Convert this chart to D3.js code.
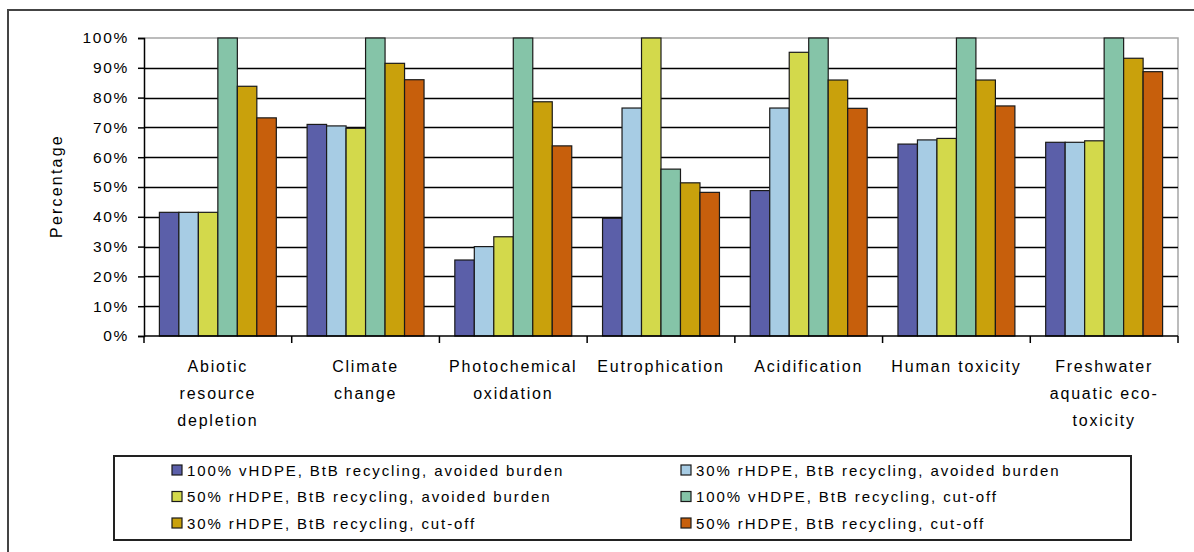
<!DOCTYPE html>
<html>
<head>
<meta charset="utf-8">
<script src="https://cdn.jsdelivr.net/npm/d3@7"></script>
<style>
  html, body { margin: 0; padding: 0; background: #fff; }
  svg { display: block; font-family: Arial, "Liberation Sans", sans-serif; }
</style>
</head>
<body>
<svg id="chart" width="1194" height="552"></svg>
<script>
// Impact categories (label lines)
const categories = [
  ["Abiotic", "resource", "depletion"],
  ["Climate", "change"],
  ["Photochemical", "oxidation"],
  ["Eutrophication"],
  ["Acidification"],
  ["Human toxicity"],
  ["Freshwater", "aquatic eco-", "toxicity"]
];

// Scenario names
const seriesNames = [
  "100% vHDPE, BtB recycling, avoided burden",
  "30% rHDPE, BtB recycling, avoided burden",
  "50% rHDPE, BtB recycling, avoided burden",
  "100% vHDPE, BtB recycling, cut-off",
  "30% rHDPE, BtB recycling, cut-off",
  "50% rHDPE, BtB recycling, cut-off"
];

// Relative impact (%) per scenario, one value per category
const vHDPE100Avoided = [41.5, 71.0, 25.5, 39.5, 48.8, 64.4, 65.0];
const rHDPE30Avoided  = [41.5, 70.5, 30.0, 76.5, 76.5, 65.8, 65.0];
const rHDPE50Avoided  = [41.5, 69.7, 33.3, 100, 95.2, 66.3, 65.5];
const vHDPE100Cutoff  = [100, 100, 100, 56.0, 100, 100, 100];
const rHDPE30Cutoff   = [83.8, 91.5, 78.6, 51.4, 85.9, 85.9, 93.2];
const rHDPE50Cutoff   = [73.2, 86.0, 63.8, 48.2, 76.4, 77.2, 88.7];

const seriesValues = [vHDPE100Avoided, rHDPE30Avoided, rHDPE50Avoided,
                      vHDPE100Cutoff, rHDPE30Cutoff, rHDPE50Cutoff];
const seriesColors = ["#5b5fa9", "#a7cce4", "#d3d94b", "#85c4a8", "#c9a10c", "#c75f0c"];

const yTicks = [0, 10, 20, 30, 40, 50, 60, 70, 80, 90, 100];

const svg = d3.select("#chart");
const plot = { left: 144, right: 1178, top: 38, bottom: 336 };

// Outer chart frame
svg.append("rect")
  .attr("x", 8).attr("y", 10).attr("width", 1200).attr("height", 560)
  .attr("fill", "#fff").attr("stroke", "#444").attr("stroke-width", 2);

const catKeys = categories.map((c, i) => i);
const x = d3.scaleBand().domain(catKeys).range([plot.left, plot.right]).padding(0);
const xInner = d3.scaleBand().domain(d3.range(seriesNames.length))
  .range([0, x.bandwidth()]).paddingInner(0).paddingOuter(0.79);
const y = d3.scaleLinear().domain([0, 100]).range([plot.bottom, plot.top]);

// Plot area border (top & right)
svg.append("path")
  .attr("d", `M${plot.left},${plot.top}H${plot.right}V${plot.bottom}`)
  .attr("fill", "none").attr("stroke", "#a6a6a6").attr("stroke-width", 1.5);

// Gridlines
svg.append("g").selectAll("line")
  .data(yTicks.filter(t => t > 0 && t < 100))
  .join("line")
  .attr("x1", plot.left).attr("x2", plot.right)
  .attr("y1", d => Math.round(y(d)) + 0.5).attr("y2", d => Math.round(y(d)) + 0.5)
  .attr("stroke", "#000").attr("stroke-width", 1.3);

// Bars
const groups = svg.append("g").selectAll("g")
  .data(catKeys)
  .join("g")
  .attr("transform", d => `translate(${x(d)},0)`);

groups.selectAll("rect")
  .data(ci => seriesValues.map((vals, si) => ({ si, v: vals[ci] })))
  .join("rect")
  .attr("x", d => xInner(d.si))
  .attr("y", d => y(d.v))
  .attr("width", xInner.bandwidth())
  .attr("height", d => y(0) - y(d.v))
  .attr("fill", d => seriesColors[d.si])
  .attr("stroke", "#1a1a1a").attr("stroke-width", 1.2);

// Y axis
const yAxis = d3.axisLeft(y).tickValues(yTicks).tickFormat(d => d + "%").tickSize(6).tickPadding(9);
const yg = svg.append("g").attr("transform", `translate(${plot.left},0)`).call(yAxis);
yg.select(".domain").attr("stroke", "#000").attr("stroke-width", 1.5);
yg.selectAll(".tick line").attr("stroke", "#000").attr("stroke-width", 1.5);
yg.selectAll(".tick text")
  .attr("font-size", 15.5).attr("fill", "#000")
  .style("letter-spacing", "1.7px")
  .attr("font-family", "Arial, 'Liberation Sans', sans-serif");

// X axis baseline and category separators
const xg = svg.append("g");
xg.append("line")
  .attr("x1", plot.left).attr("x2", plot.right)
  .attr("y1", plot.bottom).attr("y2", plot.bottom)
  .attr("stroke", "#000").attr("stroke-width", 1.5);
xg.selectAll("line.sep")
  .data(catKeys.concat([catKeys.length]))
  .join("line")
  .attr("class", "sep")
  .attr("x1", d => d < catKeys.length ? x(d) : plot.right)
  .attr("x2", d => d < catKeys.length ? x(d) : plot.right)
  .attr("y1", plot.bottom).attr("y2", plot.bottom + 7)
  .attr("stroke", "#000").attr("stroke-width", 1.5);

// Category labels
const labels = svg.append("g").selectAll("text")
  .data(catKeys)
  .join("text")
  .attr("x", d => x(d) + x.bandwidth() / 2)
  .attr("y", 372)
  .attr("text-anchor", "middle")
  .attr("font-size", 16)
  .style("letter-spacing", "1.8px")
  .attr("fill", "#000");
labels.selectAll("tspan")
  .data(d => categories[d].map((t, i) => ({ t, i, cx: x(d) + x.bandwidth() / 2 })))
  .join("tspan")
  .attr("x", d => d.cx)
  .attr("dy", d => d.i === 0 ? 0 : 27)
  .text(d => d.t);

// Y axis title
svg.append("text")
  .attr("transform", "translate(62,186) rotate(-90)")
  .attr("text-anchor", "middle")
  .attr("font-size", 16)
  .style("letter-spacing", "2.2px")
  .attr("fill", "#000")
  .text("Percentage");

// Legend
const legend = svg.append("g");
legend.append("rect")
  .attr("x", 114).attr("y", 456).attr("width", 1017).attr("height", 84)
  .attr("fill", "#fff").attr("stroke", "#222").attr("stroke-width", 2);

const legItems = legend.selectAll("g.item")
  .data(seriesNames.map((name, i) => ({ name, i })))
  .join("g")
  .attr("class", "item")
  .attr("transform", d => `translate(${d.i % 2 === 0 ? 172 : 681},${470 + Math.floor(d.i / 2) * 26.5})`);

legItems.append("rect")
  .attr("x", 0).attr("y", -5).attr("width", 10).attr("height", 10)
  .attr("fill", d => seriesColors[d.i])
  .attr("stroke", "#1a1a1a").attr("stroke-width", 1.2);

legItems.append("text")
  .attr("x", 15).attr("y", 5.5)
  .attr("font-size", 15)
  .style("letter-spacing", "1.9px")
  .attr("fill", "#000")
  .text(d => d.name);
</script>
</body>
</html>
